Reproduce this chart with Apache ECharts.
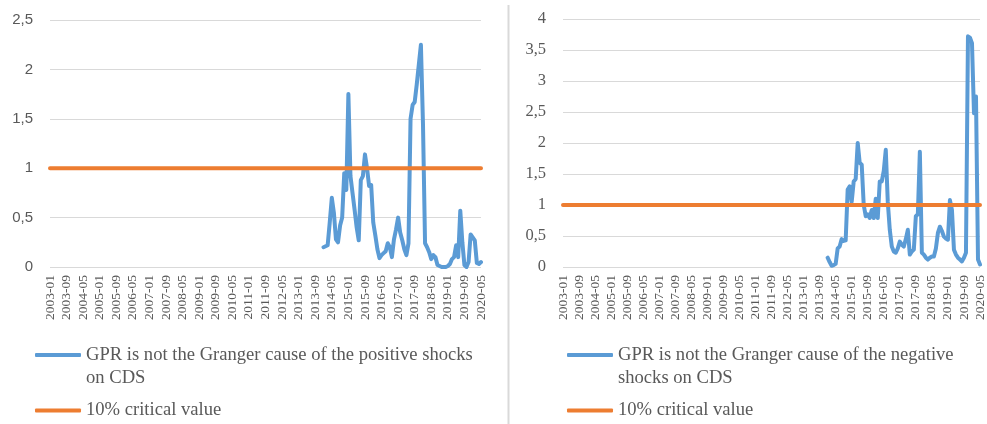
<!DOCTYPE html>
<html>
<head>
<meta charset="utf-8">
<script src="https://cdn.jsdelivr.net/npm/echarts@6/dist/echarts.min.js"></script>
<style>
html,body{margin:0;padding:0;background:#fff;}
#chart{width:987px;height:424px;}
</style>
</head>
<body>
<div id="chart"></div>
<script>
// Monthly categories 2003-01 .. 2020-05
const firstYear = 2003, lastYear = 2020, lastMonth = 5;
const months = [];
for (let y = firstYear; y <= lastYear; y++) {
  for (let m = 1; m <= 12; m++) {
    if (y === lastYear && m > lastMonth) break;
    months.push(y + '-' + (m < 10 ? '0' + m : '' + m));
  }
}
// Test statistics start in 2014-01
const seriesStart = '2014-01';
const positiveShocks = [
  0.20, 0.21, 0.22, 0.45, 0.70, 0.55, 0.28, 0.25, 0.42, 0.50,
  0.95, 0.78, 1.75, 0.92, 0.75, 0.58, 0.40, 0.27, 0.88, 0.92,
  1.14, 1.00, 0.82, 0.83, 0.45, 0.32, 0.18, 0.09, 0.12, 0.14,
  0.16, 0.24, 0.20, 0.10, 0.28, 0.38, 0.50, 0.35, 0.27, 0.18,
  0.12, 0.24, 1.50, 1.64, 1.67, 1.85, 2.05, 2.25, 1.45, 0.24,
  0.20, 0.15, 0.08, 0.12, 0.10, 0.02, 0.01, 0.00, 0.00, 0.00,
  0.01, 0.03, 0.08, 0.10, 0.22, 0.10, 0.57, 0.25, 0.02, 0.00,
  0.05, 0.33, 0.30, 0.27, 0.04, 0.03, 0.05
];
const negativeShocks = [
  0.15, 0.08, 0.02, 0.03, 0.05, 0.30, 0.33, 0.45, 0.42, 0.43,
  1.25, 1.30, 1.05, 1.38, 1.42, 2.00, 1.68, 1.65, 1.00, 0.82,
  0.85, 0.79, 0.92, 0.79, 1.10, 0.79, 1.38, 1.38, 1.55, 1.89,
  1.05, 0.60, 0.33, 0.25, 0.23, 0.30, 0.41, 0.36, 0.33, 0.45,
  0.60, 0.20, 0.25, 0.28, 0.82, 0.85, 1.86, 0.23, 0.20, 0.15,
  0.12, 0.15, 0.17, 0.17, 0.30, 0.55, 0.65, 0.58, 0.49, 0.46,
  0.44, 1.08, 0.92, 0.28, 0.20, 0.15, 0.12, 0.09, 0.15, 0.23,
  3.72, 3.70, 3.61, 2.48, 2.75, 0.12, 0.04
];
const criticalValue = 1;
const leftMax = 2.5, rightMax = 4, yStep = 0.5;
const namePos = 'GPR is not the Granger cause of the positive shocks on CDS';
const nameNeg = 'GPR is not the Granger cause of the negative shocks on CDS';
const nameCrit = '10% critical value';

const offset = months.indexOf(seriesStart);
function pad(vals) {
  const out = months.map(() => null);
  vals.forEach((v, i) => { out[offset + i] = v; });
  return out;
}
const critLine = months.map(() => criticalValue);

const BLUE = '#5B9BD5', ORANGE = '#ED7D31', GREY = '#595959', GRID = '#D9D9D9';
const SERIF = '"Liberation Serif", "Times New Roman", serif';
const SANS = '"Liberation Sans", Arial, sans-serif';
const comma = v => String(v).replace('.', ',');

function xAxis(gi) {
  return {
    type: 'category', gridIndex: gi, data: months, boundaryGap: false,
    axisLine: { show: false }, axisTick: { show: false },
    axisLabel: { interval: 7, rotate: 90, margin: 8, color: GREY, fontFamily: SERIF, fontSize: 13.5 }
  };
}
function yAxis(gi, max, font, size) {
  return {
    type: 'value', gridIndex: gi, min: 0, max: max, interval: yStep,
    axisLine: { show: false }, axisTick: { show: false },
    splitLine: { lineStyle: { color: GRID, width: 1 } },
    axisLabel: { color: GREY, fontFamily: font, fontSize: size, margin: 17, formatter: comma }
  };
}
function legend(name, left, top, fmt) {
  return {
    data: [{ name: name, icon: 'roundRect' }],
    left: left, top: top, padding: 0,
    itemWidth: 46, itemHeight: 4, selectedMode: false,
    formatter: fmt,
    textStyle: { color: GREY, fontFamily: SERIF, fontSize: 18.6, lineHeight: 23 }
  };
}

const chart = echarts.init(document.getElementById('chart'), null, { renderer: 'canvas' });
chart.setOption({
  animation: false,
  backgroundColor: '#fff',
  grid: [
    { left: 50, top: 20, width: 431, height: 247 },
    { left: 563, top: 19, width: 417, height: 248 }
  ],
  xAxis: [xAxis(0), xAxis(1)],
  yAxis: [yAxis(0, leftMax, SANS, 15), yAxis(1, rightMax, SERIF, 16.5)],
  legend: [
    legend(namePos, 35, 320.5, () => ' \nGPR is not the Granger cause of the positive shocks\non CDS'),
    legend(nameCrit, 35, 399, null),
    legend(nameNeg, 567, 320.5, () => ' \nGPR is not the Granger cause of the negative\nshocks on CDS'),
    legend(nameCrit, 567, 399, null)
  ],
  graphic: [{
    type: 'line', shape: { x1: 508.5, y1: 5, x2: 508.5, y2: 424 },
    style: { stroke: GRID, lineWidth: 2 }
  }],
  series: [
    { name: namePos, type: 'line', xAxisIndex: 0, yAxisIndex: 0, data: pad(positiveShocks),
      showSymbol: false, symbol: 'none', color: BLUE,
      lineStyle: { color: BLUE, width: 4, cap: 'round', join: 'round' } },
    { name: nameCrit, type: 'line', xAxisIndex: 0, yAxisIndex: 0, data: critLine,
      showSymbol: false, symbol: 'none', color: ORANGE,
      lineStyle: { color: ORANGE, width: 4, cap: 'round' } },
    { name: nameNeg, type: 'line', xAxisIndex: 1, yAxisIndex: 1, data: pad(negativeShocks),
      showSymbol: false, symbol: 'none', color: BLUE,
      lineStyle: { color: BLUE, width: 4, cap: 'round', join: 'round' } },
    { name: nameCrit, type: 'line', xAxisIndex: 1, yAxisIndex: 1, data: critLine,
      showSymbol: false, symbol: 'none', color: ORANGE,
      lineStyle: { color: ORANGE, width: 4, cap: 'round' } }
  ]
});
</script>
</body>
</html>
